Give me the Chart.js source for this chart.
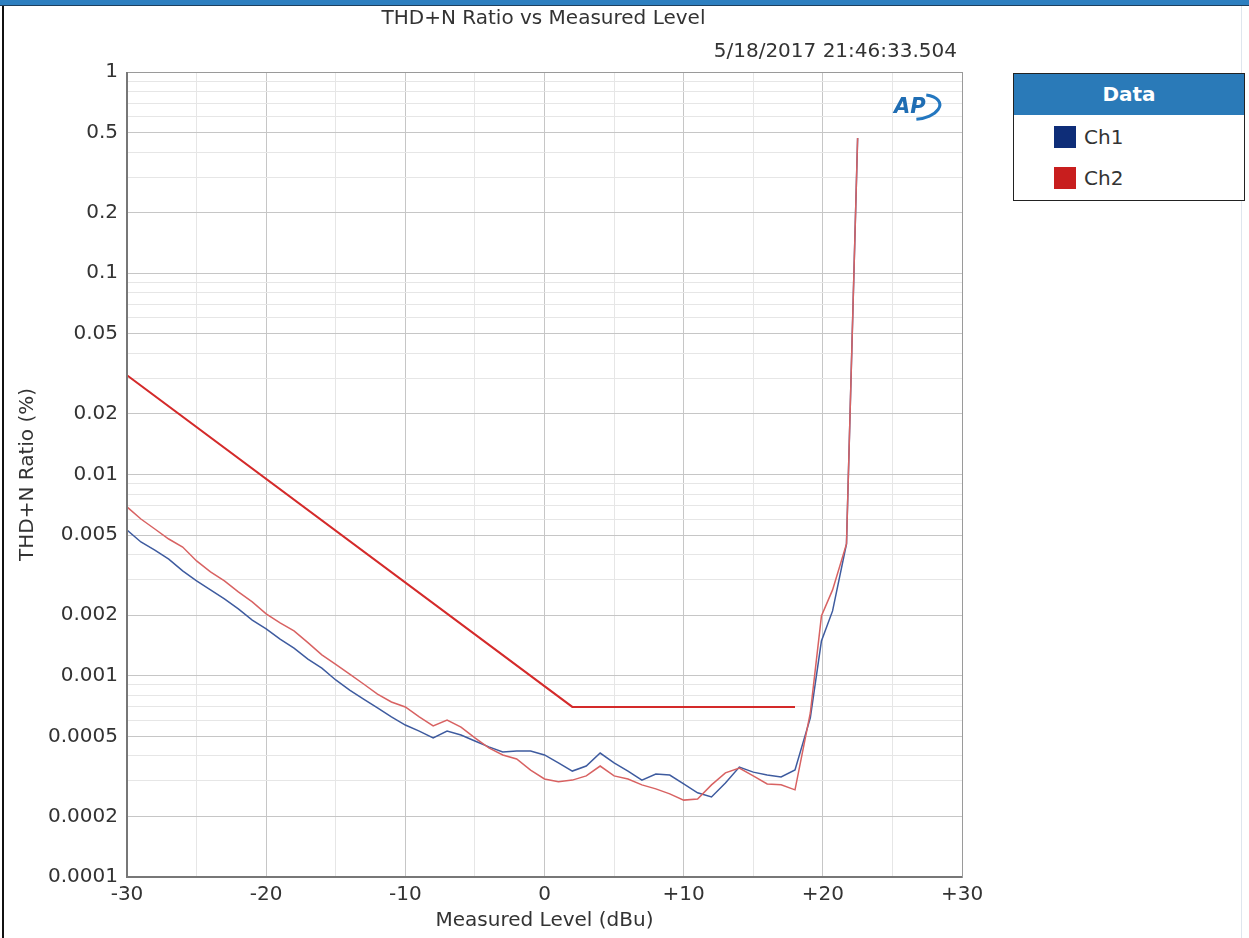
<!DOCTYPE html>
<html>
<head>
<meta charset="utf-8">
<title>THD+N Ratio vs Measured Level</title>
<script src="https://cdn.jsdelivr.net/npm/chart.js@4.4.1/dist/chart.umd.min.js"></script>
<style>
  html, body { margin: 0; padding: 0; background: #fff; }
  body { width: 1249px; height: 938px; position: relative; overflow: hidden; font-family: "DejaVu Sans", sans-serif; color: #333; }
  #topbar { position: absolute; left: 0; top: 0; width: 1249px; height: 5px; background: #2d7fc0; border-bottom: 1px solid #1d3f5e; }
  #leftline { position: absolute; left: 2px; top: 6px; width: 2px; height: 932px; background: #111; }
  #rightline { position: absolute; left: 1241px; top: 6px; width: 1px; height: 932px; background: #dfe6ee; }
  #title { position: absolute; left: 0; width: 1087px; top: 5px; text-align: center; font-size: 20px; }
  #stamp { position: absolute; right: 292px; top: 38px; font-size: 20px; }
  #wrap { position: absolute; left: 0; top: 0; width: 1249px; height: 938px; }
  #legend { position: absolute; left: 1013px; top: 73px; width: 230px; height: 126px; border: 1.5px solid #222; background: #fff; }
  #legend .head { height: 41px; background: #2a7ab8; color: #fff; font-weight: bold; font-size: 20px; text-align: center; line-height: 41px; }
  #legend .row { position: absolute; left: 40px; height: 22px; font-size: 20px; line-height: 22px; }
  #legend .sw { display: inline-block; width: 22px; height: 22px; vertical-align: top; margin-right: 8px; }
</style>
</head>
<body>
<div id="wrap"><canvas id="thdChart"></canvas></div>
<div id="topbar"></div>
<div id="leftline"></div>
<div id="rightline"></div>
<div id="title">THD+N Ratio vs Measured Level</div>
<div id="stamp">5/18/2017 21:46:33.504</div>
<div id="legend">
  <div class="head">Data</div>
  <div class="row" style="top:52px"><span class="sw" style="background:#0e2d78"></span>Ch1</div>
  <div class="row" style="top:93px"><span class="sw" style="background:#c81e1e"></span>Ch2</div>
</div>
<script>
// ---- data ----
const levels = [-30, -29, -28, -27, -26, -25, -24, -23, -22, -21, -20, -19, -18, -17, -16, -15, -14, -13, -12, -11,
  -10, -9, -8, -7, -6, -5, -4, -3, -2, -1, 0, 1, 2, 3, 4, 5, 6, 7, 8, 9,
  10, 11, 12, 13, 14, 15, 16, 17, 18, 19.1, 19.9, 20.7, 21.7, 22.5];

const ch1 = [0.0053, 0.00462, 0.00421, 0.0038, 0.00332, 0.00296, 0.00267, 0.00241, 0.00215, 0.00189,
  0.00171, 0.00152, 0.00137, 0.00121, 0.00109, 0.000953, 0.000849, 0.000766, 0.000692, 0.000624,
  0.000569, 0.000531, 0.000491, 0.000531, 0.000508, 0.000474, 0.000443, 0.000418, 0.000423, 0.000423,
  0.000404, 0.000369, 0.000336, 0.000356, 0.000413, 0.000369, 0.000336, 0.000303, 0.000325, 0.000321,
  0.00029, 0.000262, 0.00025, 0.000293, 0.000352, 0.000332, 0.000321, 0.000314, 0.00034,
  0.000617, 0.00149, 0.0021, 0.00452, 0.47];

const ch2 = [0.0069, 0.00601, 0.00536, 0.00478, 0.00436, 0.00372, 0.00328, 0.00296, 0.00261, 0.00233,
  0.00203, 0.00183, 0.00167, 0.00146, 0.00127, 0.00114, 0.00102, 0.00091, 0.000811, 0.000741,
  0.0007, 0.000624, 0.000563, 0.000603, 0.000556, 0.000491, 0.000438, 0.000404, 0.000386, 0.00034,
  0.000307, 0.000297, 0.000303, 0.000318, 0.000356, 0.000318, 0.000307, 0.000287, 0.000274, 0.000259,
  0.000241, 0.000244, 0.000287, 0.000329, 0.000348, 0.000318, 0.00029, 0.000287, 0.000271,
  0.000653, 0.00198, 0.00267, 0.00452, 0.47];

// limit line
const limitX = [-30, 2, 18];
const limitY = [0.0311, 0.0007, 0.0007];

// axis ticks
const yTickLabels = [1, 0.5, 0.2, 0.1, 0.05, 0.02, 0.01, 0.005, 0.002, 0.001, 0.0005, 0.0002, 0.0001];
const xTickValues = [-30, -20, -10, 0, 10, 20, 30];
const xTickLabels = ['-30', '-20', '-10', '0', '+10', '+20', '+30'];

const FONT = "'DejaVu Sans', sans-serif";

function toPoints(xs, ys) {
  return xs.map((x, i) => ({ x: x, y: ys[i] }));
}

function isMajorY(v) {
  return yTickLabels.some(t => Math.abs(t - v) / t < 1e-6);
}

// box round the plot + the AP mark
const framePlugin = {
  id: 'frame',
  afterDraw(chart) {
    const { ctx, chartArea: a } = chart;
    ctx.save();
    ctx.strokeStyle = '#9a9a9a';
    ctx.lineWidth = 1;
    ctx.strokeRect(a.left + 0.5, a.top + 0.5, a.right - a.left, a.bottom - a.top);
    ctx.strokeStyle = '#777';
    ctx.lineWidth = 2;
    ctx.beginPath();
    ctx.moveTo(a.left, a.top);
    ctx.lineTo(a.left, a.bottom);
    ctx.lineTo(a.right, a.bottom);
    ctx.stroke();

    // AP logo
    const cx = 916, cy = 107;
    ctx.strokeStyle = '#2377c0';
    ctx.lineWidth = 3;
    ctx.beginPath();
    ctx.ellipse(cx + 2, cy, 22, 12, -0.15, -0.35 * Math.PI, 0.55 * Math.PI);
    ctx.stroke();
    ctx.fillStyle = '#1f6db3';
    ctx.font = "italic bold 21px " + FONT;
    ctx.textBaseline = 'middle';
    ctx.fillText('AP', cx - 22, cy + 1);
    ctx.restore();
  }
};

const ctx = document.getElementById('thdChart').getContext('2d');
const thdChart = new Chart(ctx, {
  type: 'line',
  data: {
    datasets: [
      {
        label: 'Limit',
        data: toPoints(limitX, limitY),
        borderColor: '#d42a2a',
        borderWidth: 2,
        pointRadius: 0,
        order: 1
      },
      {
        label: 'Ch1',
        data: toPoints(levels, ch1),
        borderColor: '#3e5b9f',
        borderWidth: 1.5,
        pointRadius: 0,
        order: 3
      },
      {
        label: 'Ch2',
        data: toPoints(levels, ch2),
        borderColor: '#d86262',
        borderWidth: 1.5,
        pointRadius: 0,
        order: 2
      }
    ]
  },
  options: {
    responsive: true,
    maintainAspectRatio: false,
    animation: false,
    layout: { padding: { top: 72, right: 287, left: 0, bottom: 0 } },
    plugins: {
      legend: { display: false },
      tooltip: { enabled: false }
    },
    elements: { line: { tension: 0 } },
    scales: {
      x: {
        type: 'linear',
        min: -30,
        max: 30,
        afterFit: s => { s.height = 61; },
        afterBuildTicks: s => {
          const t = [];
          for (let v = -30; v <= 30; v += 5) t.push({ value: v });
          s.ticks = t;
        },
        grid: {
          drawTicks: false,
          color: c => (xTickValues.includes(c.tick.value) ? '#c6c6c6' : '#e6e6e6'),
          lineWidth: 1
        },
        border: { display: false },
        ticks: {
          padding: 6,
          autoSkip: false,
          maxRotation: 0,
          color: '#333',
          font: { family: FONT, size: 20 },
          callback: v => {
            const i = xTickValues.indexOf(v);
            return i >= 0 ? xTickLabels[i] : '';
          }
        },
        title: {
          display: true,
          text: 'Measured Level (dBu)',
          color: '#333',
          font: { family: FONT, size: 20 },
          padding: { top: 0, bottom: 5 }
        }
      },
      y: {
        type: 'logarithmic',
        min: 0.0001,
        max: 1,
        afterFit: s => { s.width = 127; },
        afterBuildTicks: s => {
          const t = [];
          for (let e = -4; e < 0; e++) {
            for (let m = 1; m < 10; m++) t.push({ value: m * Math.pow(10, e) });
          }
          t.push({ value: 1 });
          s.ticks = t;
        },
        grid: {
          drawTicks: false,
          color: c => (isMajorY(c.tick.value) ? '#c6c6c6' : '#e6e6e6'),
          lineWidth: 1
        },
        border: { display: false },
        ticks: {
          padding: 9,
          autoSkip: false,
          color: '#333',
          font: { family: FONT, size: 20 },
          callback: v => (isMajorY(v) ? String(Number(v.toPrecision(1))) : '')
        },
        title: {
          display: true,
          text: 'THD+N Ratio (%)',
          color: '#333',
          font: { family: FONT, size: 20 },
          padding: { top: 16, bottom: 0 }
        }
      }
    }
  },
  plugins: [framePlugin]
});
</script>
</body>
</html>
